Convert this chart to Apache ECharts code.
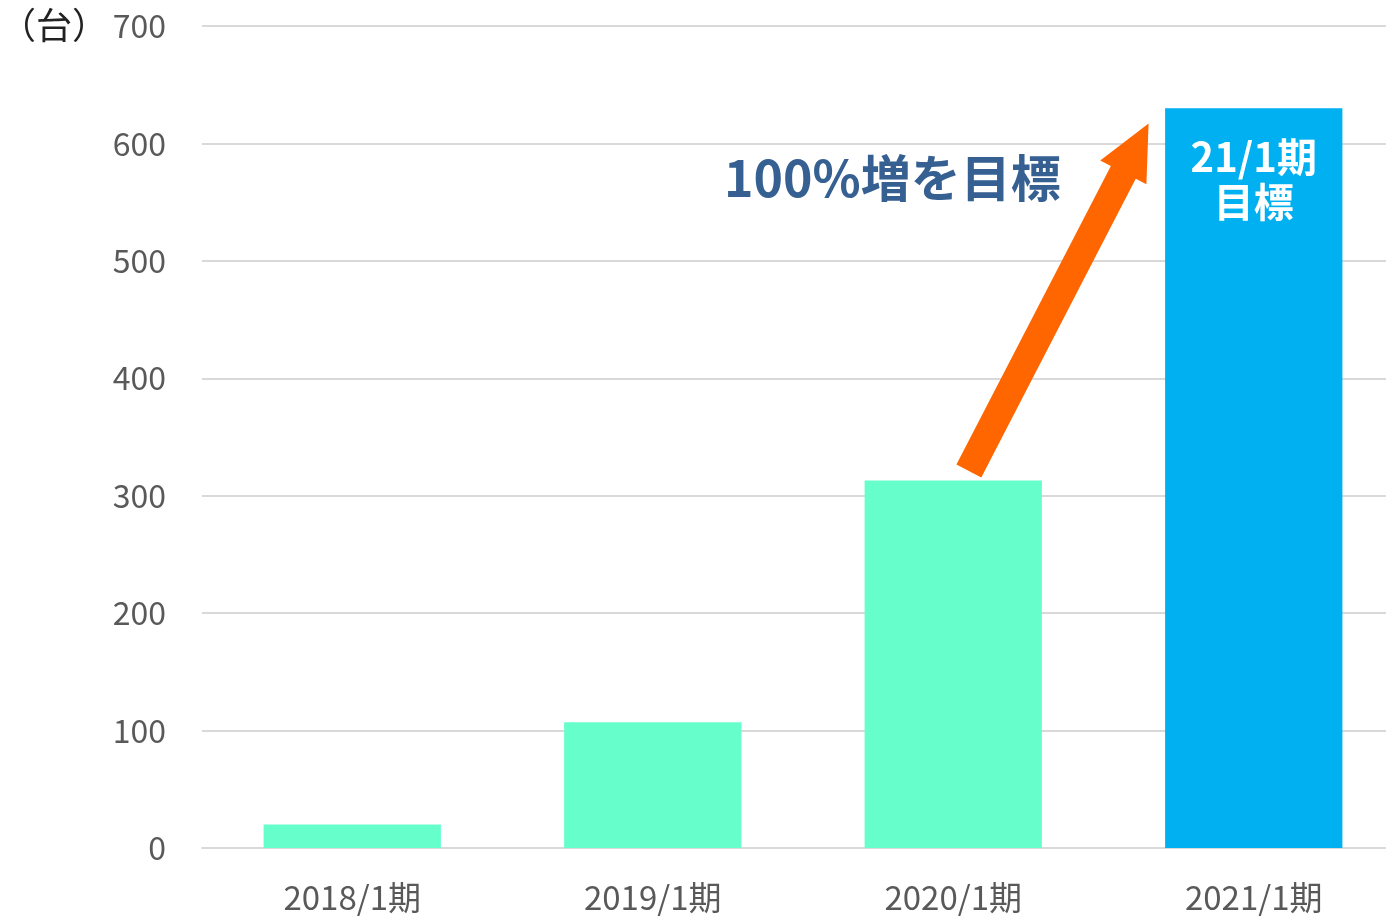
<!DOCTYPE html>
<html>
<head>
<meta charset="utf-8">
<script src="https://cdn.jsdelivr.net/npm/echarts@6/dist/echarts.min.js"></script>
<style>
  html, body { margin: 0; padding: 0; background: #fff; }
  #chart { width: 1386px; height: 917px; }
</style>
</head>
<body>
<div id="chart"></div>
<script>
// 期ごとの台数（最後は目標値）
const categories = ['2018/1期', '2019/1期', '2020/1期', '2021/1期']
const values = [20, 107, 313, 630]
const yTicks = [0, 100, 200, 300, 400, 500, 600, 700]

const FONT = '"Noto Sans CJK JP", "Noto Sans", sans-serif'
const chart = echarts.init(document.getElementById('chart'))

const barData = values.map((v, i) => {
  if (i === values.length - 1) {
    return {
      value: v,
      itemStyle: { color: '#00B0F0' },
      label: {
        show: true,
        position: 'insideTop',
        distance: 26,
        formatter: '21/1期\n目標',
        color: '#fff',
        fontSize: 40,
        fontWeight: 'bold',
        lineHeight: 45,
        fontFamily: FONT
      }
    }
  }
  return { value: v, itemStyle: { color: '#66FFCC' } }
})

const option = {
  animation: false,
  // グリッドは右端で画面外まで伸びている
  grid: { left: 202, right: -18, top: 26, bottom: 69, outerBoundsMode: 'none' },
  xAxis: {
    type: 'category',
    data: categories,
    axisLine: { lineStyle: { color: '#d9d9d9', width: 2 } },
    axisTick: { show: false },
    axisLabel: { color: '#595959', fontSize: 33, margin: 33, fontFamily: FONT }
  },
  yAxis: {
    type: 'value',
    min: yTicks[0],
    max: yTicks[yTicks.length - 1],
    interval: 100,
    axisLine: { show: false },
    axisTick: { show: false },
    axisLabel: { color: '#595959', fontSize: 32, margin: 36, fontFamily: FONT },
    splitLine: { lineStyle: { color: '#d9d9d9', width: 2 } }
  },
  series: [{
    type: 'bar',
    barWidth: '59%',
    data: barData
  }]
}

chart.setOption(option)

// 矢印（2020 → 2021 の増加を示す）をデータ座標から描く
const toPx = (idx, val) => {
  const a = chart.convertToPixel({ gridIndex: 0 }, [Math.floor(idx), val])
  const b = chart.convertToPixel({ gridIndex: 0 }, [Math.floor(idx) + 1, val])
  const t = idx - Math.floor(idx)
  return [a[0] + (b[0] - a[0]) * t, a[1]]
}
const start = toPx(2.052, 321)
const tip = toPx(2.65, 617)
const dx = tip[0] - start[0], dy = tip[1] - start[1]
const len = Math.sqrt(dx * dx + dy * dy)
const ux = dx / len, uy = dy / len
const nx = -uy, ny = ux
const shaftW = 14, headW = 26, headL = 55
const hb = [tip[0] - ux * headL, tip[1] - uy * headL]
const arrowPts = [
  [start[0] + nx * shaftW, start[1] + ny * shaftW],
  [hb[0] + nx * shaftW, hb[1] + ny * shaftW],
  [hb[0] + nx * headW, hb[1] + ny * headW],
  tip,
  [hb[0] - nx * headW, hb[1] - ny * headW],
  [hb[0] - nx * shaftW, hb[1] - ny * shaftW],
  [start[0] - nx * shaftW, start[1] - ny * shaftW]
]

chart.setOption({
  graphic: [
    {
      type: 'polygon',
      shape: { points: arrowPts },
      style: { fill: '#FF6600' },
      z: 10
    },
    {
      type: 'text',
      left: 724,
      top: 153,
      style: {
        text: '100%増を目標',
        fill: '#376092',
        font: 'bold 50px ' + FONT
      },
      z: 10
    },
    {
      type: 'text',
      left: 0,
      top: 7,
      style: {
        text: '（台）',
        fill: '#222',
        font: '36px ' + FONT
      }
    }
  ]
})

window.addEventListener('resize', () => chart.resize())
</script>
</body>
</html>
